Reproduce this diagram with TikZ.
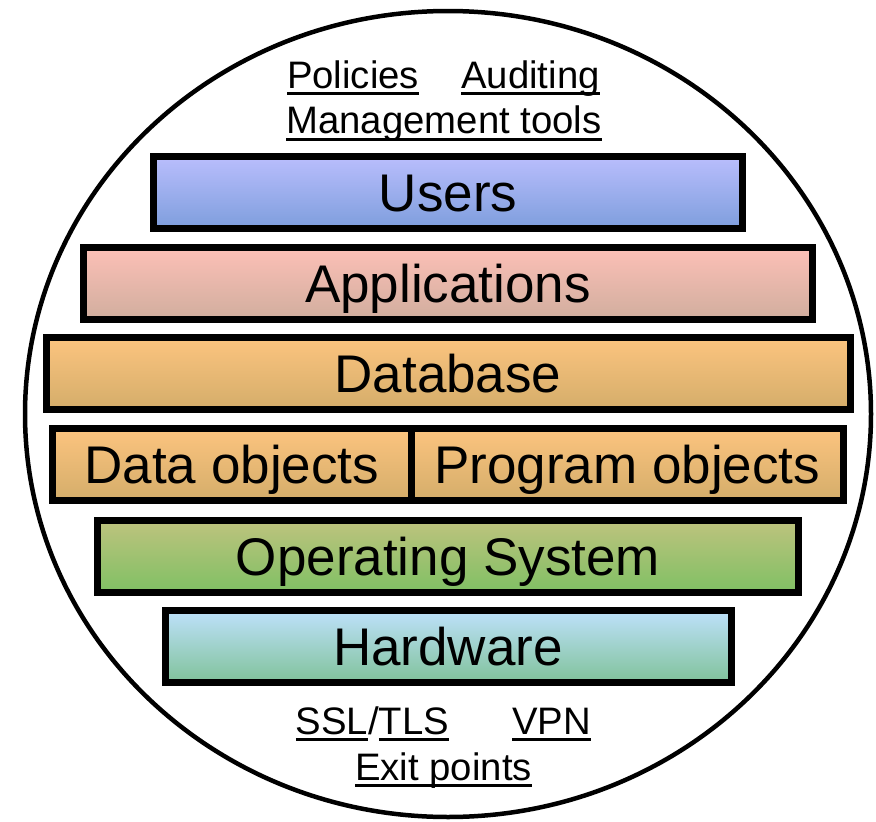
\documentclass[tikz,border=0pt]{standalone}
\usepackage{fontspec}
\setmainfont{Liberation Sans}
\usepackage{tikz}
\newcommand\ulbox[1]{\leavevmode\setbox0\hbox{#1}\rlap{\rule[-7pt]{\wd0}{2.7pt}}\box0}
\definecolor{usertop}{HTML}{BABEFD}
\definecolor{userbot}{HTML}{7E9EDD}
\definecolor{apptop}{HTML}{FDC0B7}
\definecolor{appbot}{HTML}{D1AE9E}
\definecolor{dbtop}{HTML}{FCC47F}
\definecolor{dbbot}{HTML}{D4AD6A}
\definecolor{ostop}{HTML}{BEC37E}
\definecolor{osbot}{HTML}{80C064}
\definecolor{hwtop}{HTML}{BEE1FB}
\definecolor{hwbot}{HTML}{80C29A}
\tikzset{
  layer/.style={draw=black, line width=7pt, inner sep=0, outer sep=0,
    minimum height=72pt, text height=38pt, text depth=0pt,
    font=\fontsize{53}{60}\selectfont},
  ctrl/.style={inner sep=0, anchor=base, font=\fontsize{38.3}{44}\selectfont}
}

\begin{document}
\begin{tikzpicture}[x=1pt,y=-1pt]
    \useasboundingbox (0,0) rectangle (876,822);
    \draw[line width=4.5pt] (448,414) ellipse [x radius=423pt, y radius=403pt];

    \node[layer, minimum width=589pt, top color=usertop, bottom color=userbot] (users) at (448,192) {Users};
    \node[layer, minimum width=729pt, top color=apptop, bottom color=appbot] (apps) at (448,283) {Applications};
    \node[layer, minimum width=804pt, top color=dbtop, bottom color=dbbot] (db) at (448,373.5) {Database};
    \node[layer, minimum width=358.5pt, top color=dbtop, bottom color=dbbot] (dataobj) at (231.75,464.5) {Data objects};
    \node[layer, minimum width=432.5pt, top color=dbtop, bottom color=dbbot] (progobj) at (627.25,464.5) {Program objects};
    \node[layer, minimum width=701pt, top color=ostop, bottom color=osbot] (os) at (448,556) {Operating System};
    \node[layer, minimum width=566pt, top color=hwtop, bottom color=hwbot] (hw) at (448,646.5) {Hardware};

    \node[ctrl] (policies) at (353,88) {\ulbox{Policies}};
    \node[ctrl] (auditing) at (530.5,88) {\ulbox{Auditing}};
    \node[ctrl] (mgmt) at (444,133.5) {\ulbox{Management tools}};
    \node[ctrl] (ssl) at (372.5,734) {\ulbox{SSL}/\ulbox{TLS}};
    \node[ctrl] (vpn) at (551.5,734) {\ulbox{VPN}};
    \node[ctrl] (exit) at (443.5,780) {\ulbox{Exit points}};
\end{tikzpicture}
\end{document}
